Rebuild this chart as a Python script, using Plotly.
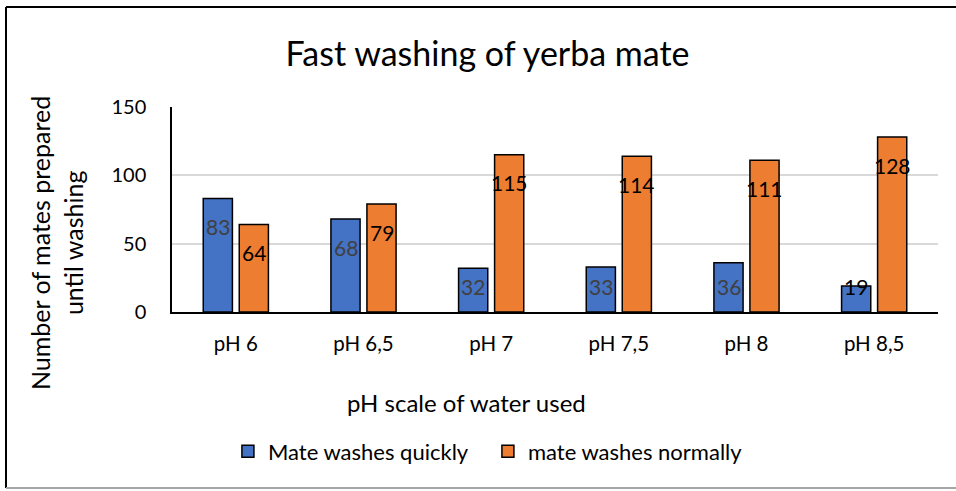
import plotly.graph_objects as go

categories = ["pH 6", "pH 6,5", "pH 7", "pH 7,5", "pH 8", "pH 8,5"]
quick = [83, 68, 32, 33, 36, 19]
normal = [64, 79, 115, 114, 111, 128]
series_names = ["Mate washes quickly", "mate washes normally"]
y_ticks = [0, 50, 100, 150]

FONT = "Lato"
BLUE = "#4472C4"
ORANGE = "#ED7D31"

fig = go.Figure()
fig.add_trace(go.Bar(x=categories, y=quick, name=series_names[0],
                     marker=dict(color=BLUE, line=dict(color="black", width=1.5))))
fig.add_trace(go.Bar(x=categories, y=normal, name=series_names[1],
                     marker=dict(color=ORANGE, line=dict(color="black", width=1.5))))

def label_y(v):
    return max(v - 20.5, min(v, 19))

annotations = []
for cat, v in zip(categories, quick):
    annotations.append(dict(x=cat, y=label_y(v), text=str(v), showarrow=False,
                            xshift=-18, font=dict(family=FONT, size=21,
                                                  color="black" if v < 25 else "#404040")))
for cat, v in zip(categories, normal):
    annotations.append(dict(x=cat, y=label_y(v), text=str(v), showarrow=False,
                            xshift=18, font=dict(family=FONT, size=21, color="black")))

# axis titles
annotations.append(dict(xref="paper", yref="paper", x=-0.15, y=0.337, xanchor="center", yanchor="middle",
                        text="Number of mates prepared<br>until washing", textangle=-90, showarrow=False,
                        font=dict(family=FONT, size=25, color="black")))
annotations.append(dict(xref="paper", yref="paper", x=0.385, y=-0.44, xanchor="center", yanchor="middle",
                        text="pH scale of water used", showarrow=False,
                        font=dict(family=FONT, size=24, color="black")))

fig.update_layout(
    width=956, height=491,
    margin=dict(l=172, r=18, t=107, b=179),
    paper_bgcolor="white", plot_bgcolor="white",
    barmode="group", bargap=0.436, bargroupgap=0.19,
    title=dict(text="Fast washing of yerba mate", x=0.51, xanchor="center", y=0.89, yanchor="middle",
               font=dict(family=FONT, size=34, color="black")),
    xaxis=dict(showline=True, linecolor="black", linewidth=1.5, ticks="", showgrid=False,
               tickfont=dict(family=FONT, size=20.5, color="black"), ticklabelstandoff=13),
    yaxis=dict(range=[0, 150], tickvals=y_ticks, showline=True, linecolor="black", linewidth=1.5,
               gridcolor="#D9D9D9", gridwidth=1.5, zeroline=False, ticks="",
               tickfont=dict(family=FONT, size=20, color="black"), ticklabelstandoff=20),
    legend=dict(orientation="h", x=0.073, xanchor="left", y=-0.68, yanchor="middle",
                font=dict(family=FONT, size=22, color="black"), entrywidth=215, itemwidth=30),
    annotations=annotations,
    showlegend=True,
    shapes=[
        dict(type="line", xref="paper", yref="paper", x0=-166/766, x1=1.03, y0=1 + 100/205, y1=1 + 100/205,
             line=dict(color="black", width=2)),
        dict(type="line", xref="paper", yref="paper", x0=-166/766, x1=-166/766, y0=1 + 100/205, y1=-176/205,
             line=dict(color="black", width=2)),
        dict(type="line", xref="paper", yref="paper", x0=-166/766, x1=1.03, y0=-176/205, y1=-176/205,
             line=dict(color="#A6A6A6", width=2)),
    ],
)

fig.write_html("out.html", config={"displayModeBar": False},
               post_script="document.body.style.margin='0';document.body.style.overflow='hidden';")
